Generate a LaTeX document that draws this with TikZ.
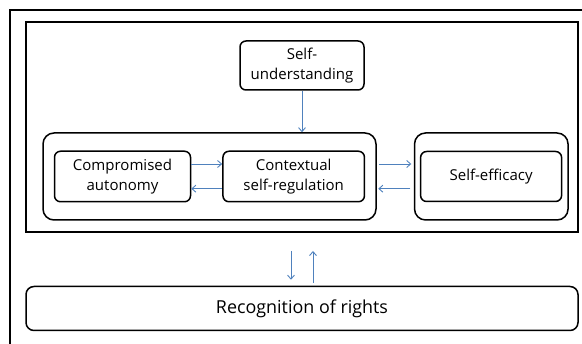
\documentclass[tikz,border=0pt]{standalone}
\usepackage{fontspec}
\setmainfont{Open Sans}
\usetikzlibrary{arrows.meta,positioning}
\definecolor{arrowblue}{RGB}{79,129,189}
\tikzset{
  frame/.style={draw=black,line width=2pt},
  rbox/.style={draw=black,line width=1.5pt,rounded corners=6pt,align=center,
    inner sep=0pt,font=\fontsize{15}{20.5}\selectfont},
  gbox/.style={draw=black,line width=1.5pt,rounded corners=11pt,inner sep=0pt},
  link/.style={draw=arrowblue,line width=0.9pt,-{Straight Barb[length=4pt,width=7pt]}},
}
\begin{document}
\begin{tikzpicture}[x=1pt,y=-1pt]
\useasboundingbox (0,0) rectangle (582,344);
\clip (0,0) rectangle (582,344);
% outer frame (runs past the picture's right and bottom edges)
\draw[frame] (10,10) rectangle (600,360);
% inner frame
\node[frame,minimum width=552pt,minimum height=210pt,inner sep=0pt] (inner) at (302,127) {};
% self-understanding
\node[rbox,minimum width=124pt,minimum height=49pt] (su) at (302,65.5) {Self-\\understanding};
% group box
\node[gbox,minimum width=333pt,minimum height=87pt] (grp) at (209.5,176.5) {};
\node[rbox,minimum width=136pt,minimum height=50.5pt] (comp) at (122.5,176.5) {Compromised\\autonomy};
\node[rbox,minimum width=141.5pt,minimum height=50.5pt] (ctx) at (293.7,176.5) {Contextual\\self-regulation};
% self-efficacy
\node[gbox,minimum width=153.5pt,minimum height=87pt] (effo) at (491.3,176.5) {};
\node[rbox,minimum width=141pt,minimum height=50pt] (eff) at (491.1,176.5) {Self-efficacy};
% recognition
\node[rbox,rounded corners=8pt,minimum width=552pt,minimum height=44pt,
  font=\fontsize{17.9}{22}\selectfont] (rec) at (302,308.5) {Recognition of rights};
% connectors
\draw[link] (su.south) -- (su.south |- grp.north);
\draw[link] ([yshift=12.5pt]comp.east) -- ([yshift=12.5pt]ctx.west);
\draw[link] ([yshift=-12.2pt]ctx.west) -- ([yshift=-12.2pt]comp.east);
\draw[link] ([shift={(2.5pt,12.5pt)}]grp.east) -- ([shift={(-2.5pt,12.5pt)}]effo.west);
\draw[link] ([shift={(-3.5pt,-12.2pt)}]effo.west) -- ([shift={(1.5pt,-12.2pt)}]grp.east);
\draw[link] ([shift={(-11pt,-18pt)}]inner.south) -- ([shift={(-11pt,6pt)}]rec.north);
\draw[link] ([shift={(11pt,3pt)}]rec.north) -- ([shift={(11pt,-18pt)}]inner.south);
\end{tikzpicture}
\end{document}
